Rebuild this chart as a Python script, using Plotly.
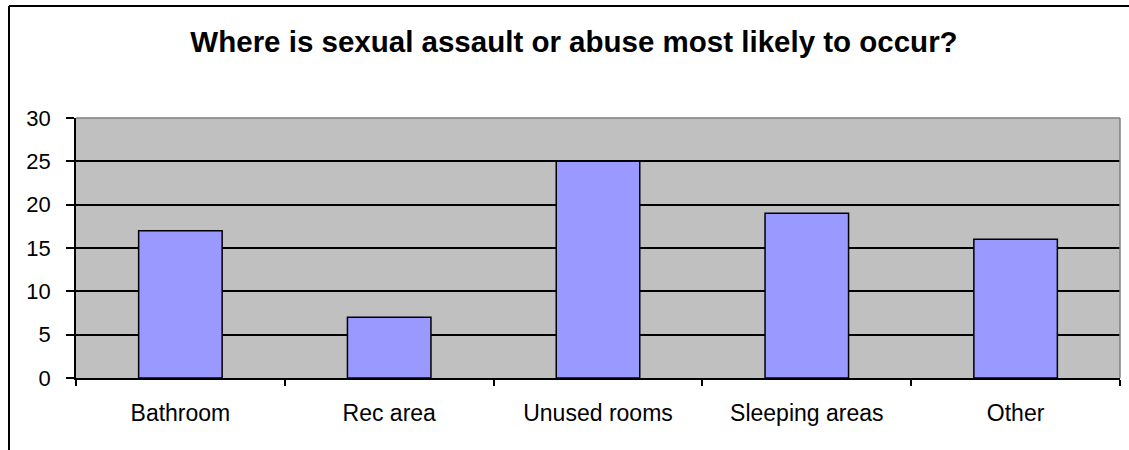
import plotly.graph_objects as go

categories = ["Bathroom", "Rec area", "Unused rooms", "Sleeping areas", "Other"]
values = [17, 7, 25, 19, 16]
y_ticks = [0, 5, 10, 15, 20, 25, 30]
title_text = "Where is sexual assault or abuse most likely to occur?"

W, H = 1129, 450
L, R, T, B = 76, 9, 118, 72
pw = W - L - R
ph = H - T - B

fig = go.Figure(go.Bar(
    x=categories, y=values,
    marker=dict(color="#9999FF", line=dict(color="black", width=1.5)),
))

def px_x(p):
    return (p - L) / pw

def px_y(p):
    return (H - B - p) / ph

shapes = [
    # plot area grey top & right border
    dict(type="line", xref="paper", yref="paper", x0=0, x1=1, y0=1, y1=1,
         line=dict(color="#808080", width=1.5), layer="above"),
    dict(type="line", xref="paper", yref="paper", x0=1, x1=1, y0=0, y1=1,
         line=dict(color="#808080", width=1.5), layer="above"),
    # outer chart frame (left and top visible)
    dict(type="line", xref="paper", yref="paper", x0=px_x(9), x1=px_x(9), y0=px_y(452), y1=px_y(6),
         line=dict(color="black", width=2)),
    dict(type="line", xref="paper", yref="paper", x0=px_x(9), x1=px_x(1132), y0=px_y(6), y1=px_y(6),
         line=dict(color="black", width=2)),
]

fig.update_layout(
    width=W, height=H,
    margin=dict(l=L, r=R, t=T, b=B, pad=0),
    paper_bgcolor="white",
    plot_bgcolor="#C0C0C0",
    bargap=0.6,
    showlegend=False,
    font=dict(family="Liberation Sans, Arial, sans-serif", color="black"),
    title=dict(text="<b>" + title_text + "</b>", xref="container", x=574 / W, xanchor="center",
               y=1 - 42 / H, yanchor="middle",
               font=dict(size=29.5, family="Liberation Sans, Arial, sans-serif", color="black")),
    shapes=shapes,
    xaxis=dict(
        type="category", tickson="boundaries", ticks="outside", ticklen=6,
        tickcolor="black", tickwidth=1.5,
        showline=True, linecolor="black", linewidth=1.5,
        showgrid=False, tickfont=dict(size=23), ticklabelstandoff=14,
        fixedrange=True,
    ),
    yaxis=dict(
        range=[0, 30], tickvals=y_ticks, ticks="outside", ticklen=8,
        tickcolor="black", tickwidth=1.5,
        showline=True, linecolor="black", linewidth=1.5,
        showgrid=True, gridcolor="black", gridwidth=1.5,
        zeroline=False, tickfont=dict(size=22), ticklabelstandoff=11,
    ),
)

fig.write_html("out.html")
